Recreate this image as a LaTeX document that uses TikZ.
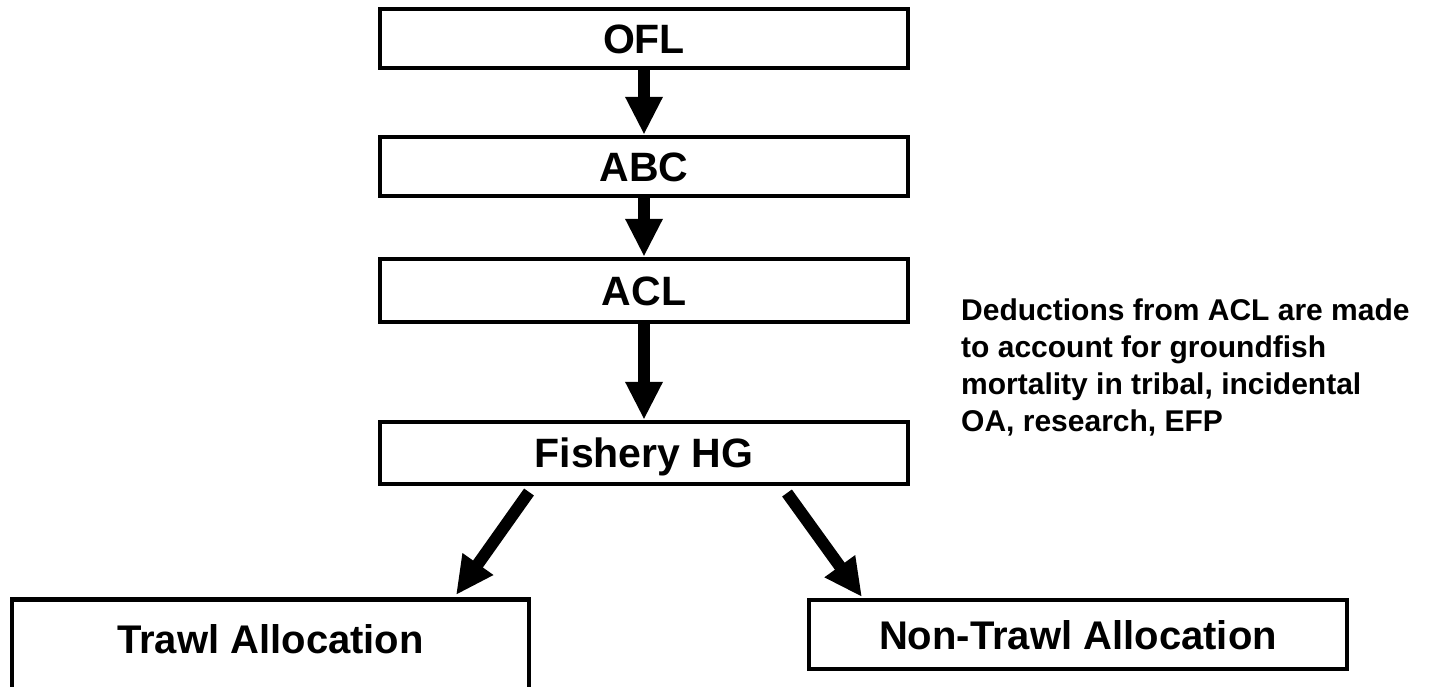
\documentclass[tikz,border=0pt]{standalone}
\usepackage{fontspec}
\setmainfont{Liberation Sans}
\usetikzlibrary{arrows.meta}
\begin{document}
\begin{tikzpicture}[x=1pt,y=-1pt,
  box/.style={draw=black, line width=4.5pt, minimum width=528pt, inner sep=0pt,
    font=\fontsize{41}{48}\selectfont\bfseries, text height=29.5pt, text depth=0pt},
  allocbox/.style={box, font=\fontsize{40}{48}\selectfont\bfseries},
  flow/.style={line width=12pt, -{Triangle[width=35pt,length=38pt]}},
  note/.style={anchor=north west, inner sep=0pt, align=left,
    font=\fontsize{30}{37}\selectfont\bfseries}]
\fill[white] (0,0) rectangle (1431,686);
\useasboundingbox (0,0) rectangle (1431,686);
\clip (0,0) rectangle (1431,686);

\node[box, minimum height=59pt] (ofl) at (644,38.5) {OFL};
\node[box, minimum height=59pt] (abc) at (644,166.5) {ABC};
\node[box, minimum height=63pt] (acl) at (644,290.5) {ACL};
\node[box, minimum height=62pt] (fhg) at (644,453) {Fishery HG};

\node[allocbox, anchor=north, minimum width=517pt, text height=54pt, text depth=49pt]
  (trawl) at (270.5,597) {Trawl Allocation};
\node[allocbox, minimum width=538pt, minimum height=69pt] (nontrawl) at (1078,634.5) {Non-Trawl Allocation};

\node[note] (ded) at (961,299) {Deductions from ACL are made\\to account for groundfish\\mortality in tribal, incidental\\OA, research, EFP};

\draw[flow] (ofl.south) -- (abc.north);
\draw[flow] (abc.south) -- (acl.north);
\draw[flow] (acl.south) -- (fhg.north);

\coordinate (lstart) at (529,492);
\coordinate (ltip) at (456,595);
\coordinate (rstart) at (787,493);
\coordinate (rtip) at (862,597);
\draw[flow] (lstart) -- (ltip);
\draw[flow] (rstart) -- (rtip);
\end{tikzpicture}
\end{document}
